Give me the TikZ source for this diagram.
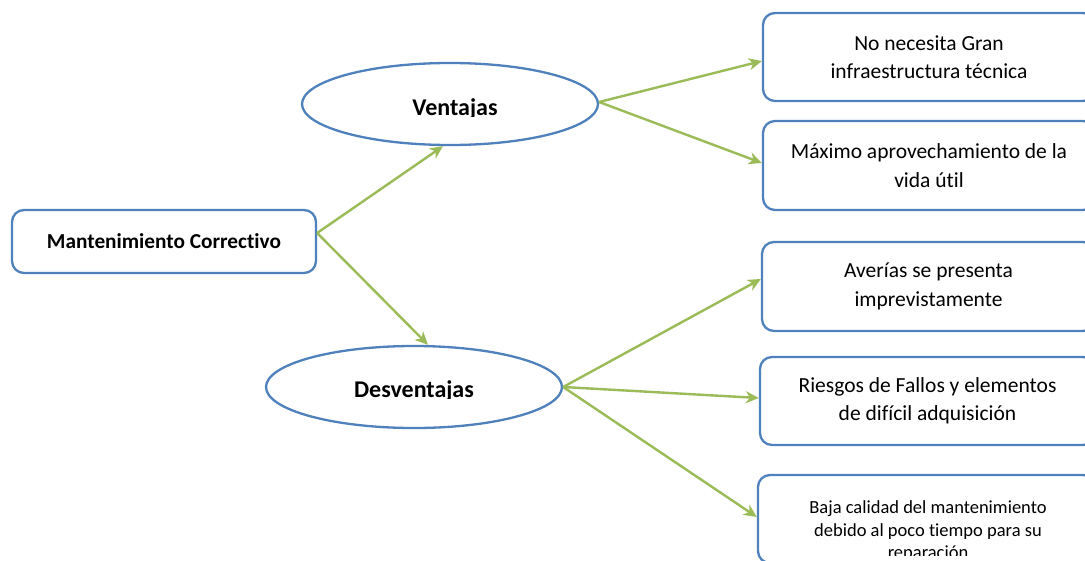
\documentclass[tikz,border=0pt]{standalone}
\usepackage{fontspec}
\setmainfont[Ligatures=NoCommon]{Carlito}
\usetikzlibrary{arrows.meta,shapes.geometric}
\definecolor{boxblue}{HTML}{4F81BD}
\definecolor{arrgreen}{HTML}{9BBB59}
\begin{document}
\begin{tikzpicture}[x=1pt,y=-1pt,
  card/.style={draw=boxblue,line width=2.3pt,rounded corners=12pt,fill=white,inner sep=0pt},
  oval/.style={ellipse,draw=boxblue,line width=2.3pt,fill=white,minimum width=296pt,minimum height=82pt,inner sep=0pt},
  link/.style={draw=arrgreen,line width=2.4pt,-{Stealth[length=13pt,width=12pt,inset=4pt]}},
  body/.style={font=\fontsize{21.5}{28.5}\selectfont,align=center},
  small/.style={font=\fontsize{18.5}{22.5}\selectfont,align=center},
  head/.style={font=\bfseries\fontsize{24}{28}\selectfont,anchor=base}]
\clip (0,0) rectangle (1085,560);
\fill[white] (0,0) rectangle (1085,560);

% root box
\node[card,minimum width=304pt,minimum height=63pt,
      font=\bfseries\fontsize{21.3}{25}\selectfont] (main) at (164,241.5) {Mantenimiento Correctivo};

% the two branch ovals
\node[oval] (ven) at (450,104) {};
\node[oval] (des) at (414,387) {};
\begin{scope}
  \clip (300,60) rectangle (600,116);
  \node[head] (venlbl) at (455,115) {Ventajas};
\end{scope}
\begin{scope}
  \clip (260,340) rectangle (570,398);
  \node[head] (deslbl) at (414,397) {Desventajas};
\end{scope}

% leaf boxes
\node[card,minimum width=332pt,minimum height=88pt,body] (b1) at (929,57)
  {No necesita Gran\\infraestructura técnica};
\node[card,minimum width=332pt,minimum height=89pt,body] (b2) at (929,165.5)
  {Máximo aprovechamiento de la\\vida útil};
\node[card,minimum width=333pt,minimum height=89pt,body] (b3) at (928.5,286.5)
  {Averías se presenta\\imprevistamente};
\node[card,minimum width=335pt,minimum height=88pt,body] (b4) at (927.5,401)
  {Riesgos de Fallos y elementos\\de difícil adquisición};
\node[card,minimum width=337pt,minimum height=88pt] (b5) at (926.5,519) {};
\begin{scope}
  \clip (758,475) rectangle (1085,555);
  \node[small] (b5lbl) at (928,531.5)
    {Baja calidad del mantenimiento\\debido al poco tiempo para su\\reparación};
\end{scope}

% connectors
\draw[link] ([yshift=8.5pt]main.east) -- ([xshift=-7pt]ven.south);
\draw[link] ([yshift=8.5pt]main.east) -- ([xshift=14pt]des.north);
\draw[link] ([yshift=2pt]ven.east) -- ([yshift=-4pt]b1.west);
\draw[link] ([yshift=2pt]ven.east) -- ([yshift=2.5pt]b2.west);
\draw[link] (des.east) -- ([yshift=7.5pt]b3.west);
\draw[link] (des.east) -- ([yshift=3pt]b4.west);
\draw[link] (des.east) -- ([yshift=2pt]b5.west);
\end{tikzpicture}
\end{document}
